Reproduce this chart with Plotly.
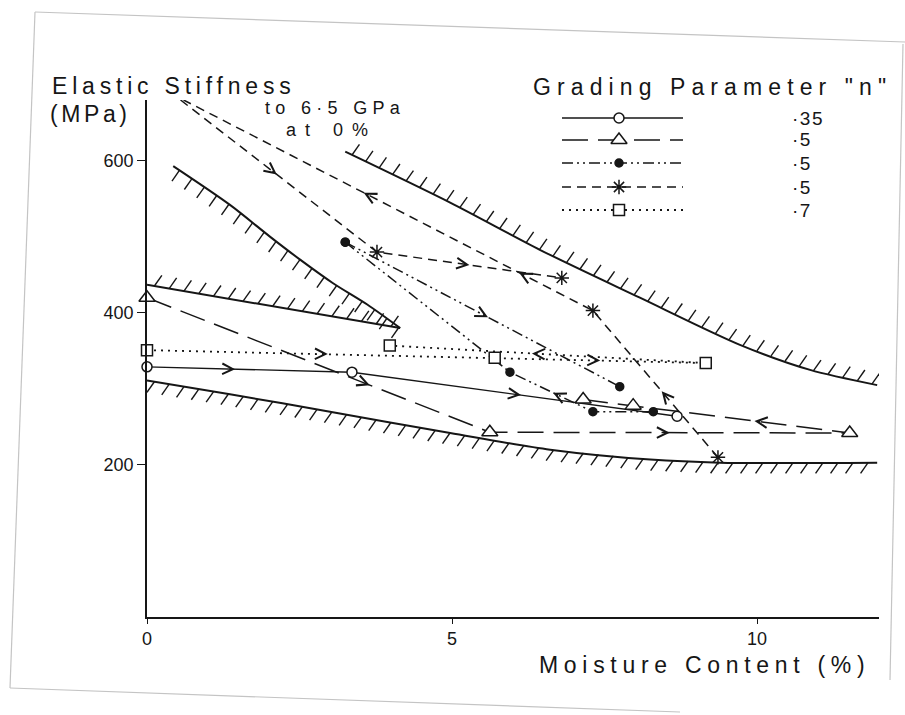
import math
import plotly.graph_objects as go

# ---- measured stiffness paths: moisture content (%) vs elastic stiffness (MPa) ----
n35_moist = [0.0, 3.36, 8.69]
n35_stiff = [329, 322, 264]

n5a_moist = [0.0, 5.62, 11.52, 7.97, 7.15]
n5a_stiff = [420, 243, 242, 278, 286]

n5b_wet_moist = [3.25, 7.75]
n5b_wet_stiff = [493, 303]
n5b_dry_moist = [8.30, 7.31, 5.95, 3.25]
n5b_dry_stiff = [270, 270, 322, 493]

n5c_wet_moist = [0.55, 3.77, 6.80]
n5c_wet_stiff = [680, 480, 446]
n5c_dry_moist = [9.36, 7.31, 0.60]
n5c_dry_stiff = [210, 403, 680]

n7_moist = [0.0, 5.70, 9.16, 3.98]
n7_stiff = [351, 341, 334, 357]

# ---- hatched envelope boundaries ----
upper_env_moist = [3.25, 4.97, 6.44, 8.08, 9.72, 10.87, 11.97]
upper_env_stiff = [612, 545, 483, 420, 358, 325, 305]
wedge_top_moist = [0.43, 1.36, 2.02, 2.51, 3.05, 3.61, 4.15]
wedge_top_stiff = [593, 542, 500, 470, 439, 411, 380]
wedge_base_moist = [0.0, 4.15]
wedge_base_stiff = [437, 380]
lower_env_moist = [0.0, 1.36, 3.0, 4.97, 6.61, 8.25, 9.39, 11.97]
lower_env_stiff = [311, 293, 270, 242, 220, 207, 203, 203]

x_ticks = [0, 5, 10]
y_ticks = [200, 400, 600]
legend_labels = ["·35", "·5", "·5", "·5", "·7"]

# ---- layout geometry ----
W, H = 905, 715
M_L, M_R, M_T, M_B = 147, 26, 100, 98
X_RANGE = [0, 12]
Y_RANGE = [0, 680]
PX_L, PX_R = M_L, W - M_R
PX_T, PX_B = M_T, H - M_B
INK = "#161616"
FONT = "Liberation Sans, Arial, sans-serif"


def to_px(x, y):
    px = PX_L + (x - X_RANGE[0]) / (X_RANGE[1] - X_RANGE[0]) * (PX_R - PX_L)
    py = PX_B - (y - Y_RANGE[0]) / (Y_RANGE[1] - Y_RANGE[0]) * (PX_B - PX_T)
    return px, py


def paper(px, py):
    return (px - PX_L) / (PX_R - PX_L), (PX_B - py) / (PX_B - PX_T)


def hatch_marks(xs, ys, side, spacing=15.0, length=13.0, angle=55.0):
    """Short slanted ticks along a boundary; side=+1 up-right, -1 down-left."""
    pts = [to_px(x, y) for x, y in zip(xs, ys)]
    ca, sa = math.cos(math.radians(angle)), math.sin(math.radians(angle))
    dx, dy = side * length * ca, -side * length * sa
    hx, hy = [], []
    carry = spacing / 2
    for (x0, y0), (x1, y1) in zip(pts[:-1], pts[1:]):
        seg = math.hypot(x1 - x0, y1 - y0)
        d = carry
        while d <= seg:
            t = d / seg
            px, py = x0 + t * (x1 - x0), y0 + t * (y1 - y0)
            hx += [px, px + dx, None]
            hy += [py, py + dy, None]
            d += spacing
        carry = d - seg
    return hx, hy


def direction_arrows(xs, ys, marks):
    """Open chevrons showing the wetting/drying direction along a path."""
    anns = []
    for seg, t in marks:
        x0, y0 = to_px(xs[seg], ys[seg])
        x1, y1 = to_px(xs[seg + 1], ys[seg + 1])
        L = math.hypot(x1 - x0, y1 - y0)
        ux, uy = (x1 - x0) / L, (y1 - y0) / L
        hx, hy = x0 + t * (x1 - x0), y0 + t * (y1 - y0)
        anns.append(dict(x=hx, y=hy, ax=hx - 7 * ux, ay=hy - 7 * uy,
                         xref="x2", yref="y2", axref="x2", ayref="y2",
                         text="", showarrow=True, arrowhead=5, arrowsize=1.6,
                         arrowwidth=1.3, arrowcolor=INK, standoff=0))
    return anns


def label(txt, px, py, size, sp, anchor="left"):
    x, y = paper(px, py)
    return dict(x=x, y=y, xref="paper", yref="paper", xanchor=anchor, yanchor="middle",
                text=f'<span style="letter-spacing:{sp}px">{txt}</span>', showarrow=False,
                font=dict(family=FONT, size=size, color=INK))


fig = go.Figure()

# envelopes
for xs, ys, side in [(upper_env_moist, upper_env_stiff, +1),
                     (wedge_top_moist, wedge_top_stiff, -1),
                     (wedge_base_moist, wedge_base_stiff, +1),
                     (lower_env_moist, lower_env_stiff, -1)]:
    fig.add_trace(go.Scatter(x=xs, y=ys, mode="lines",
                             line=dict(color=INK, width=2, shape="spline", smoothing=0.8),
                             showlegend=False, hoverinfo="skip"))
    hx, hy = hatch_marks(xs, ys, side)
    fig.add_trace(go.Scatter(x=hx, y=hy, xaxis="x2", yaxis="y2", mode="lines",
                             line=dict(color=INK, width=1.4),
                             showlegend=False, hoverinfo="skip"))

# series styles
S35 = dict(dash="solid", width=1.4, symbol="circle", fill="white", size=10)
S5A = dict(dash="26px,10px", width=1.5, symbol="triangle-up", fill="white", size=14)
S5B = dict(dash="11px,4px,2px,4px,2px,4px", width=1.5, symbol="circle", fill=INK, size=8)
S5C = dict(dash="9px,6px", width=1.5, symbol="asterisk-open", fill=INK, size=12)
S7 = dict(dash="2px,5px", width=1.8, symbol="square", fill="white", size=11)


def add_path(xs, ys, st, mx=None, my=None):
    fig.add_trace(go.Scatter(x=xs, y=ys, mode="lines",
                             line=dict(color=INK, width=st["width"], dash=st["dash"]),
                             showlegend=False, hoverinfo="skip"))
    mx = xs if mx is None else mx
    my = ys if my is None else my
    fig.add_trace(go.Scatter(x=mx, y=my, mode="markers", cliponaxis=False,
                             marker=dict(symbol=st["symbol"], size=st["size"], color=st["fill"],
                                         line=dict(color=INK, width=1.5)),
                             showlegend=False, hoverinfo="skip"))


add_path(n35_moist, n35_stiff, S35)
add_path(n5a_moist, n5a_stiff, S5A)
add_path(n5b_wet_moist, n5b_wet_stiff, S5B)
add_path(n5b_dry_moist, n5b_dry_stiff, S5B)
add_path(n5c_wet_moist, n5c_wet_stiff, S5C, n5c_wet_moist[1:], n5c_wet_stiff[1:])
add_path(n5c_dry_moist, n5c_dry_stiff, S5C, n5c_dry_moist[:-1], n5c_dry_stiff[:-1])
add_path(n7_moist, n7_stiff, S7)

annotations = []
annotations += direction_arrows(n35_moist, n35_stiff, [(0, 0.43), (1, 0.52)])
annotations += direction_arrows(n5a_moist, n5a_stiff, [(0, 0.65), (1, 0.5), (2, 0.44)])
annotations += direction_arrows(n5b_wet_moist, n5b_wet_stiff, [(0, 0.52)])
annotations += direction_arrows(n5b_dry_moist, n5b_dry_stiff, [(1, 0.48)])
annotations += direction_arrows(n5c_wet_moist, n5c_wet_stiff, [(0, 0.49), (1, 0.5)])
annotations += direction_arrows(n5c_dry_moist, n5c_dry_stiff, [(0, 0.45), (1, 0.18), (1, 0.56)])
annotations += direction_arrows(n7_moist, n7_stiff, [(0, 0.52), (1, 0.5), (2, 0.55)])

# key: sample line with its symbol, label to the right
key_rows = [118, 140, 163, 187, 210]
for row, st, lab in zip(key_rows, [S35, S5A, S5B, S5C, S7], legend_labels):
    fig.add_trace(go.Scatter(x=[562, 683], y=[row, row], xaxis="x2", yaxis="y2", mode="lines",
                             line=dict(color=INK, width=st["width"], dash=st["dash"]),
                             showlegend=False, hoverinfo="skip"))
    fig.add_trace(go.Scatter(x=[619], y=[row], xaxis="x2", yaxis="y2", mode="markers",
                             marker=dict(symbol=st["symbol"], size=st["size"], color=st["fill"],
                                         line=dict(color=INK, width=1.5)),
                             showlegend=False, hoverinfo="skip"))
    annotations.append(label(lab, 790, row, 19, 1.5))

# titles and notes
annotations += [
    label("Elastic Stiffness", 50, 86, 23, 4.8),
    label("(MPa)", 48, 114, 23, 3.6),
    label("Grading Parameter \"n\"", 531, 87, 23, 6.1),
    label("Moisture Content (%)", 537, 665, 23, 5.7),
    label("to 6·5 GPa", 263, 108, 18, 5.3),
    label("at 0%", 284, 130, 18, 9.0),
]

# faint outline of the sheet edge
edge = "#c4c4c4"
shapes = []
for (a, b) in [((35, 12), (905, 42)), ((35, 12), (10, 688)),
               ((10, 688), (680, 712)), ((903, 44), (890, 680))]:
    x0, y0 = paper(*a)
    x1, y1 = paper(*b)
    shapes.append(dict(type="line", xref="paper", yref="paper", x0=x0, y0=y0, x1=x1, y1=y1,
                       line=dict(color=edge, width=1.2)))

fig.update_layout(
    width=W, height=H,
    margin=dict(l=M_L, r=M_R, t=M_T, b=M_B, pad=0),
    paper_bgcolor="white", plot_bgcolor="rgba(0,0,0,0)",
    showlegend=False,
    font=dict(family=FONT, color=INK),
    xaxis=dict(range=X_RANGE, tickvals=x_ticks, showgrid=False, zeroline=False,
               showline=True, linecolor=INK, linewidth=1.5, ticks="outside", ticklen=5,
               tickcolor=INK, tickfont=dict(size=18, family=FONT, color=INK)),
    yaxis=dict(range=Y_RANGE, tickvals=y_ticks, showgrid=False, zeroline=False,
               showline=True, linecolor=INK, linewidth=1.5, ticks="outside", ticklen=8,
               tickcolor=INK, tickfont=dict(size=18, family=FONT, color=INK)),
    xaxis2=dict(overlaying="x", range=[PX_L, PX_R], visible=False),
    yaxis2=dict(overlaying="y", range=[PX_B, PX_T], visible=False),
    annotations=annotations,
    shapes=shapes,
)

fig.write_html("out.html")
